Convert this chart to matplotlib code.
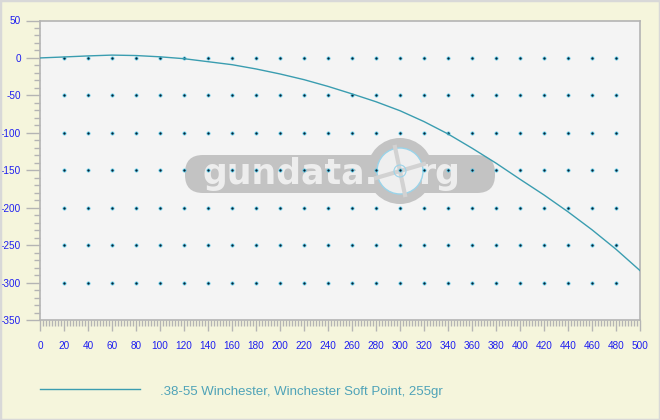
import matplotlib
matplotlib.use("Agg")
import matplotlib.pyplot as plt
from matplotlib.patches import FancyBboxPatch, Rectangle, Circle
from matplotlib.lines import Line2D
from matplotlib.transforms import IdentityTransform
import numpy as np

# ---- data ----
range_yd = [0, 20, 40, 60, 80, 100, 120, 140, 160, 180, 200, 220, 240, 260,
            280, 300, 320, 340, 360, 380, 400, 420, 440, 460, 480, 500]
path_in = [0, 1.3, 2.7, 3.8, 3.2, 1.5, -1, -5, -9, -14.7, -21.4, -29, -38, -48,
           -58.5, -70.5, -85, -101.5, -120.5, -140.5, -162, -183, -205.5, -229.5, -255.5, -284]
series_label = ".38-55 Winchester, Winchester Soft Point, 255gr"
dot_x = list(range(20, 481, 20))
dot_y = [0, -50, -100, -150, -200, -250, -300]

BG = "#F5F5DC"
PLOT_BG = "#F4F4F4"
LINE_C = "#3A9DB0"
TICK_TXT = "#1E1EF0"
AX_C = "#B4B4B4"

plt.rcParams['font.family'] = ['Liberation Sans', 'DejaVu Sans']
plt.rcParams['axes.unicode_minus'] = False

W, H = 660, 420
fig = plt.figure(figsize=(6.6, 4.2), dpi=100, facecolor=BG)
fig.patches.append(Rectangle((0, 0), 1, 1, transform=fig.transFigure, fill=False,
                             edgecolor="#D8D8D8", linewidth=2.5))

ax = fig.add_axes([40/W, 100/H, 600/W, 299.5/H])
ax.set_facecolor(PLOT_BG)
ax.set_xlim(0, 500)
ax.set_ylim(-350, 50)

# ---- watermark (gundata.org logo approximation), pixel coordinates ----
px = IdentityTransform()
def P(x, y):
    return (x, H - y)
bar = FancyBboxPatch(P(185, 193), 310, 38, boxstyle="round,pad=0,rounding_size=18",
                     transform=px, facecolor="#C3C3C3", edgecolor="none", zorder=1)
ax.add_artist(bar)
gear = Circle(P(400, 171), 33, transform=px, facecolor="#C3C3C3", edgecolor="none", zorder=2)
ax.add_artist(gear)
ring = Circle(P(400, 171), 23, transform=px, facecolor="#EFEFEF", edgecolor="#9AD4EA",
              linewidth=1.0, zorder=3)
ax.add_artist(ring)
ax.add_artist(Line2D([376, 424], [H - 178, H - 164], transform=px, color="#D2D2D2", lw=3, zorder=4))
ax.add_artist(Line2D([395, 405], [H - 147, H - 195], transform=px, color="#D2D2D2", lw=3, zorder=4))
ax.add_artist(Circle(P(400, 171), 6, transform=px, fill=False, edgecolor="#9AD4EA", lw=0.8, zorder=4))
ax.text(203, H - 174, "gundata.", transform=px, fontsize=25, fontweight='bold',
        color="#EDEDED", va='center', ha='left', zorder=2, family=['DejaVu Sans'])
ax.text(418, H - 174, "rg", transform=px, fontsize=25, fontweight='bold',
        color="#EDEDED", va='center', ha='left', zorder=2, family=['DejaVu Sans'])

# grid dots
gx, gy = np.meshgrid(dot_x, dot_y)
ax.scatter(gx.ravel(), gy.ravel(), s=5, c="#0A2030", edgecolors="#55C8E8",
           linewidths=0.6, zorder=5)

# trajectory
ax.plot(range_yd, path_in, color=LINE_C, linewidth=1.0, zorder=6)

for s in ax.spines.values():
    s.set_color(AX_C)
    s.set_linewidth(1.2)

ax.set_xticks(range(0, 501, 20))
ax.set_xticks(np.arange(0, 501, 2.5), minor=True)
ax.set_yticks(range(-350, 51, 50))
ax.set_yticks(range(-350, 51, 10), minor=True)
ax.tick_params(axis='both', which='major', colors=AX_C, labelcolor=TICK_TXT,
               labelsize=7.2, width=1.0)
ax.tick_params(axis='x', which='major', length=8, pad=7)
ax.tick_params(axis='y', which='major', length=10, pad=3.6)
ax.tick_params(axis='both', which='minor', colors=AX_C, width=1.0, length=4.5)

# legend
fig.add_artist(Line2D([40/W, 140/W], [1 - 389/H, 1 - 389/H], color=LINE_C, linewidth=1.0))
fig.text(160/W, 1 - 392/H, series_label, color="#4FA3B8", fontsize=9.5, va='center', ha='left')

fig.savefig("out.png", dpi=100, facecolor=BG)
